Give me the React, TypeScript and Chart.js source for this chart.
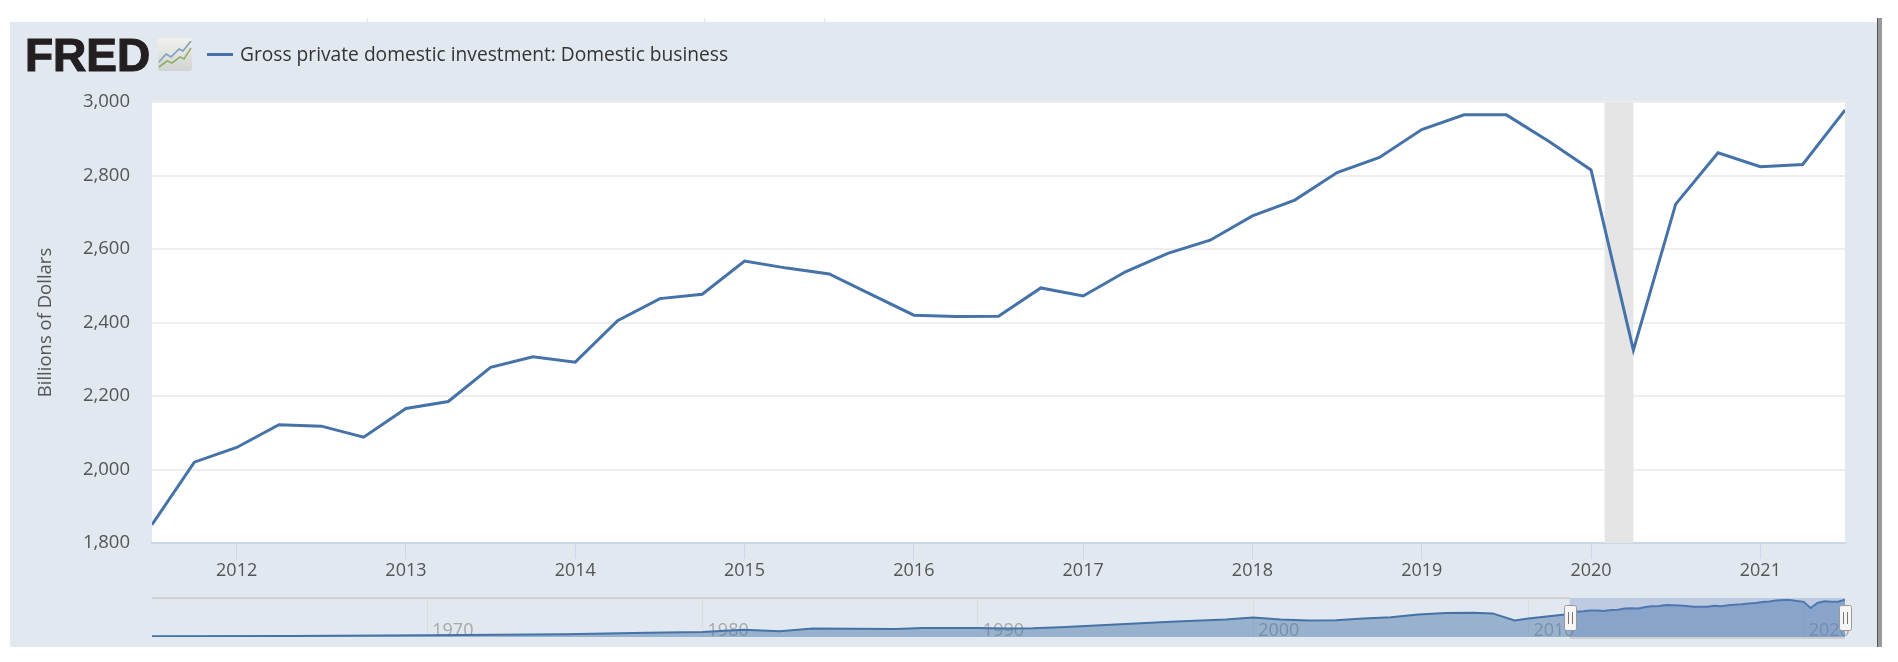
import React, { useEffect, useRef } from "react";
import { Chart, registerables } from "chart.js";

Chart.register(...registerables);

const legendLabel = "Gross private domestic investment: Domestic business";
const yAxisTitle = "Billions of Dollars";

// Quarterly dates as decimal years, 2011 Q3 to 2021 Q3
const quarters = [
  2011.5, 2011.75, 2012, 2012.25, 2012.5, 2012.75, 2013, 2013.25, 2013.5, 2013.75,
  2014, 2014.25, 2014.5, 2014.75, 2015, 2015.25, 2015.5, 2015.75, 2016, 2016.25,
  2016.5, 2016.75, 2017, 2017.25, 2017.5, 2017.75, 2018, 2018.25, 2018.5, 2018.75,
  2019, 2019.25, 2019.5, 2019.75, 2020, 2020.25, 2020.5, 2020.75, 2021, 2021.25, 2021.5,
];
const investment = [
  1850, 2020, 2060, 2122, 2118, 2088, 2166, 2185, 2278, 2307,
  2292, 2405, 2465, 2477, 2567, 2548, 2532, 2476, 2420, 2416,
  2417, 2494, 2472, 2538, 2588, 2624, 2690, 2733, 2808, 2849,
  2925, 2965, 2965, 2893, 2815, 2325, 2722, 2862, 2824, 2830, 2978,
];

// Navigator history before the selected range
const historyYears = [
  1960, 1965, 1970, 1975, 1978, 1980, 1981.5, 1982.8, 1984, 1987, 1988, 1990, 1991, 1992, 1993,
  1995, 1997, 1999, 2000, 2001, 2002, 2003, 2004, 2005, 2006, 2007, 2008, 2008.7, 2009.5, 2010, 2011,
];
const historyValues = [
  60, 90, 135, 216, 350, 405, 590, 460, 675, 650, 730, 730, 675, 700, 780,
  1000, 1215, 1400, 1566, 1400, 1320, 1350, 1485, 1590, 1810, 1917, 1944, 1890, 1320, 1485, 1728,
];

const mainTickYears = [2012, 2013, 2014, 2015, 2016, 2017, 2018, 2019, 2020, 2021];
const navigatorTickYears = [1970, 1980, 1990, 2000, 2010, 2020];
const recessionStart = 2020.08;
const recessionEnd = 2020.25;
const selectionStart = 2011.5;
const selectionEnd = 2021.5;

const lineColor = "#4572A7";
const font = "'Open Sans'";

const thousands = (v: number) => Number(v).toLocaleString("en-US");

const plotBackground = {
  id: "plotBackground",
  beforeDraw(chart: any) {
    const { ctx, chartArea: a } = chart;
    ctx.save();
    ctx.fillStyle = "#ffffff";
    ctx.fillRect(a.left, a.top, a.width, a.height);
    ctx.restore();
  },
  beforeDatasetsDraw(chart: any) {
    const { ctx, chartArea: a, scales } = chart;
    ctx.save();
    ctx.fillStyle = "#e5e5e5";
    const x0 = scales.x.getPixelForValue(recessionStart);
    const x1 = scales.x.getPixelForValue(recessionEnd);
    ctx.fillRect(x0, a.top, x1 - x0, a.height);
    ctx.restore();
  },
};

const navigatorMask = {
  id: "navigatorMask",
  afterDraw(chart: any) {
    const { ctx, chartArea: a, scales } = chart;
    const x0 = scales.x.getPixelForValue(selectionStart);
    const x1 = scales.x.getPixelForValue(selectionEnd);
    ctx.save();
    ctx.fillStyle = "rgba(102,133,194,0.3)";
    ctx.fillRect(x0, a.top, x1 - x0, a.height);
    ctx.strokeStyle = "#cfcfcf";
    ctx.lineWidth = 2;
    ctx.beginPath();
    ctx.moveTo(a.left, a.top);
    ctx.lineTo(x0, a.top);
    ctx.moveTo(x0, a.bottom + 1);
    ctx.lineTo(x1, a.bottom + 1);
    ctx.stroke();
    for (const x of [x0, x1]) {
      const w = 12;
      const h = 25;
      const top = a.top + 7;
      ctx.fillStyle = "#f5f5f5";
      ctx.strokeStyle = "#999999";
      ctx.lineWidth = 1;
      ctx.beginPath();
      ctx.roundRect(Math.round(x - w / 2) + 0.5, top + 0.5, w, h, 2);
      ctx.fill();
      ctx.stroke();
      ctx.strokeStyle = "#777777";
      ctx.beginPath();
      const cx = Math.round(x);
      ctx.moveTo(cx - 1.5, top + 7);
      ctx.lineTo(cx - 1.5, top + h - 6);
      ctx.moveTo(cx + 2.5, top + 7);
      ctx.lineTo(cx + 2.5, top + h - 6);
      ctx.stroke();
    }
    ctx.restore();
  },
};

const layer: React.CSSProperties = { position: "absolute", left: 0, top: 0, width: 1898, height: 662 };

export default function App() {
  const mainRef = useRef<HTMLCanvasElement>(null);
  const navRef = useRef<HTMLCanvasElement>(null);

  useEffect(() => {
    document.body.style.margin = "0";
    const main = new Chart(mainRef.current!, {
      type: "line",
      data: {
        datasets: [
          {
            label: legendLabel,
            data: quarters.map((q, i) => ({ x: q, y: investment[i] })),
            borderColor: lineColor,
            borderWidth: 3,
            pointRadius: 0,
            tension: 0,
          },
        ],
      },
      options: {
        animation: false,
        responsive: false,
        layout: { padding: { left: 10, right: 53, top: 102, bottom: 60 } },
        plugins: { legend: { display: false }, tooltip: { enabled: false } },
        scales: {
          x: {
            type: "linear",
            min: 2011.5,
            max: 2021.5,
            afterFit: (s: any) => { s.height = 59; },
            afterBuildTicks: (s: any) => {
              s.ticks = mainTickYears.map((value) => ({ value }));
            },
            border: { color: "#ccd6eb", width: 2 },
            grid: { drawOnChartArea: false, color: "#ccd6eb", tickLength: 16 },
            ticks: {
              autoSkip: false,
              maxRotation: 0,
              padding: 1,
              color: "#555555",
              font: { family: font, size: 18 },
              callback: (v: any) => String(v),
            },
          },
          y: {
            min: 1800,
            max: 3000,
            afterFit: (s: any) => { s.width = 142; },
            border: { display: false },
            grid: { color: "#eeeeee", lineWidth: 2, drawTicks: false },
            title: {
              display: true,
              text: yAxisTitle,
              color: "#555555",
              font: { family: font, size: 18.5 },
              padding: { top: 25, bottom: 0 },
            },
            ticks: {
              stepSize: 200,
              padding: 22,
              color: "#555555",
              font: { family: font, size: 18.5 },
              callback: (v: any) => thousands(v),
            },
          },
        },
      },
      plugins: [plotBackground],
    } as any);

    const nav = new Chart(navRef.current!, {
      type: "line",
      data: {
        datasets: [
          {
            data: [
              ...historyYears.map((q, i) => ({ x: q, y: historyValues[i] })),
              ...quarters.map((q, i) => ({ x: q, y: investment[i] })),
            ],
            borderColor: lineColor,
            borderWidth: 2,
            backgroundColor: "rgba(69,114,167,0.47)",
            fill: "origin",
            pointRadius: 0,
            tension: 0,
          },
        ],
      },
      options: {
        animation: false,
        responsive: false,
        layout: { padding: { left: 152, right: 53, top: 598, bottom: 20 } },
        plugins: { legend: { display: false }, tooltip: { enabled: false } },
        scales: {
          x: {
            type: "linear",
            min: 1960,
            max: 2021.5,
            afterFit: (s: any) => { s.height = 5; },
            afterBuildTicks: (s: any) => {
              s.ticks = navigatorTickYears.map((value) => ({ value }));
            },
            border: { display: false },
            grid: { color: "#d8dde2", drawTicks: false },
            ticks: {
              autoSkip: false,
              maxRotation: 0,
              align: "start",
              mirror: true,
              padding: -4.5,
              labelOffset: 5,
              color: "#a8a8a8",
              font: { family: font, size: 18 },
              callback: (v: any) => String(v),
            },
          },
          y: {
            min: 0,
            max: 3125,
            display: false,
          },
        },
      },
      plugins: [navigatorMask],
    } as any);

    return () => {
      main.destroy();
      nav.destroy();
    };
  }, []);

  return (
    <div style={{ ...layer, filter: "blur(0.5px)" }}>
      <div style={{ position: "absolute", left: 367, top: 18, width: 1, height: 4, background: "#e3e3e3" }} />
      <div style={{ position: "absolute", left: 704, top: 18, width: 1, height: 4, background: "#e3e3e3" }} />
      <div style={{ position: "absolute", left: 824, top: 18, width: 1, height: 4, background: "#e3e3e3" }} />
      <div style={{ position: "absolute", left: 10, top: 22, width: 1867, height: 625, background: "#E2E8EF" }} />
      <div style={{ position: "absolute", left: 1877, top: 18, width: 1, height: 629, background: "#555555" }} />
      <div style={{ position: "absolute", left: 1878, top: 18, width: 4, height: 629, background: "#999999" }} />
      <canvas ref={navRef} width={1898} height={662} style={{ ...layer, display: "block" }} />
      <canvas ref={mainRef} width={1898} height={662} style={{ ...layer, display: "block" }} />
      <div
        style={{
          position: "absolute", left: 25, top: 28, fontFamily: "'Liberation Sans'", fontWeight: 700,
          fontSize: 46, lineHeight: "54px", color: "#231f20", letterSpacing: 0,
          WebkitTextStroke: "1.2px #231f20",
        }}
      >
        FRED
      </div>
      <svg style={{ position: "absolute", left: 158, top: 38 }} width={35} height={35} viewBox="0 0 35 35">
        <defs>
          <linearGradient id="logoBg" x1="0" y1="0" x2="0" y2="1">
            <stop offset="0" stopColor="#f2f2ee" />
            <stop offset="1" stopColor="#d0d3d0" />
          </linearGradient>
        </defs>
        <rect x="0" y="0" width="34" height="33" rx="3" fill="url(#logoBg)" />
        <polyline points="1,24 8,16 13,19 21,11 25,13 33,3" fill="none" stroke="#7f9fc0" strokeWidth="1.6" />
        <polyline points="1,29 9,23 14,25 22,19 26,21 33,10" fill="none" stroke="#8fb069" strokeWidth="1.6" />
      </svg>
      <div style={{ position: "absolute", left: 207, top: 53, width: 26, height: 3, background: lineColor }} />
      <div
        style={{
          position: "absolute", left: 240, top: 40, fontFamily: font, fontSize: 19.2,
          lineHeight: "28px", color: "#333333", whiteSpace: "nowrap",
        }}
      >
        {legendLabel}
      </div>
    </div>
  );
}
